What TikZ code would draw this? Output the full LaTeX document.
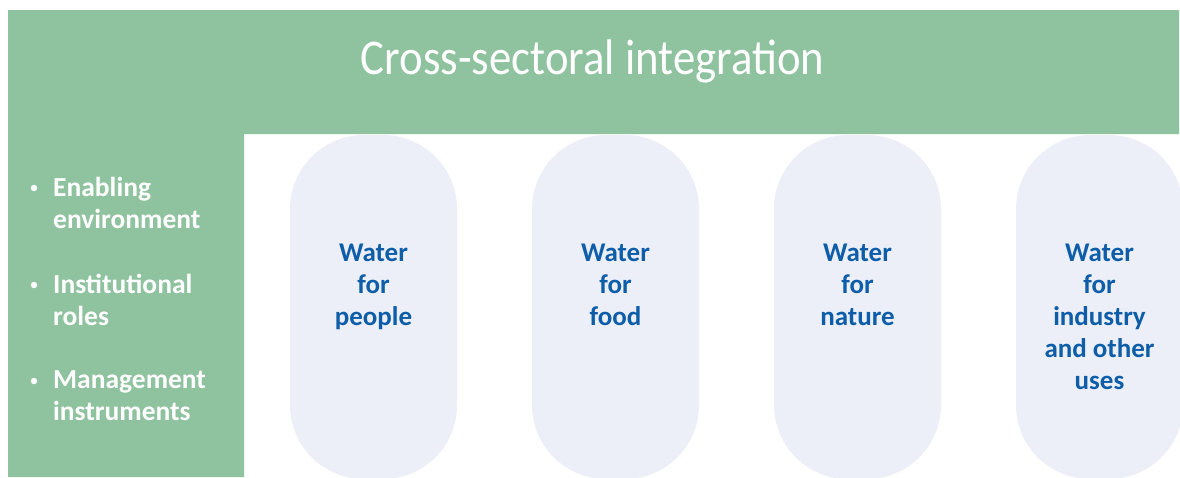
\documentclass[tikz,border=0pt]{standalone}
\usepackage{fontspec}
\setmainfont{Carlito}
\definecolor{bandgreen}{HTML}{8FC29E}
\definecolor{pillfill}{HTML}{ECEFF7}
\definecolor{textblue}{HTML}{0D5DA8}
\tikzset{
  band/.style={fill=bandgreen, draw=none},
  pill/.style={fill=pillfill, draw=none, rounded corners=74pt, minimum width=167pt, minimum height=344pt, inner sep=0pt},
  pilltext/.style={text=textblue, font=\fontsize{27}{32}\selectfont\bfseries, align=center, anchor=north, inner sep=0pt},
  bullettext/.style={text=white, font=\fontsize{27.5}{32}\selectfont\bfseries, align=left, anchor=base west, inner sep=0pt},
  dot/.style={circle, fill=white, minimum size=6.5pt, inner sep=0pt},
  titletext/.style={text=white, font=\fontsize{50}{56}\selectfont, anchor=base, inner sep=0pt}
}
\begin{document}
\begin{tikzpicture}[x=1pt,y=-1pt]
\useasboundingbox (0,0) rectangle (1180,477);
\clip (0,0) rectangle (1180,477);
\fill[white] (0,0) rectangle (1180,477);
% green band and column
\path[band] (8,10) -- (1179,10) -- (1179,134) -- (244,134) -- (244,477) -- (8,477) -- cycle;
% title
\node[titletext] (title) at (592.5,74) {\scalebox{0.895}[1]{Cross-sectoral integration}};
% pills
\node[pill] (p1) at (373.5,307) {};
\node[pill] (p2) at (615.5,307) {};
\node[pill] (p3) at (857.5,307) {};
\node[pill] (p4) at (1099.5,307) {};
% pill texts
\node[pilltext] (t1) at (p1.center |- 0,244) {Water\\for\\people};
\node[pilltext] (t2) at (p2.center |- 0,244) {Water\\for\\food};
\node[pilltext] (t3) at (p3.center |- 0,244) {Water\\for\\nature};
\node[pilltext] (t4) at (p4.center |- 0,244) {Water\\for\\industry\\and other\\uses};
% bullets
\node[bullettext] (b1) at (53,228) {Enabling\\environment};
\node[bullettext] (b2) at (53,325) {Institutional\\roles};
\node[bullettext] (b3) at (53,420) {Management\\instruments};
\node[dot] (d1) at (34,188) {};
\node[dot] (d2) at (34,285) {};
\node[dot] (d3) at (34,381) {};
\end{tikzpicture}
\end{document}
